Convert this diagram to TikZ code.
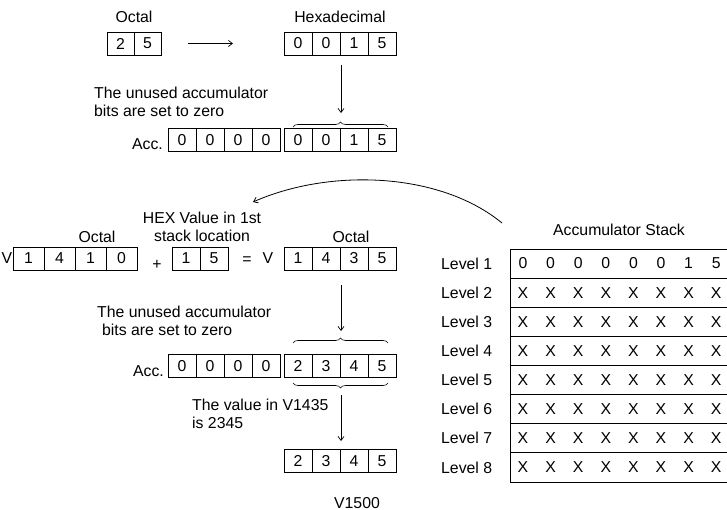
\documentclass[tikz,border=0pt]{standalone}
\usepackage{fontspec}
\setmainfont{Liberation Sans}
\usetikzlibrary{arrows.meta,decorations.pathreplacing}
\begin{document}
\begin{tikzpicture}[x=1pt,y=-1pt,
  cell/.style={draw,line width=0.8pt,minimum width=28pt,minimum height=23pt,inner sep=0pt,font=\fontsize{15.8}{17.5}\selectfont},
  lbl/.style={inner sep=0pt,font=\fontsize{15.8}{17.5}\selectfont},
  arr/.style={line width=0.7pt,-{Straight Barb[length=4pt,width=6pt]}},
  brc/.style={decorate,decoration={brace,amplitude=5pt},line width=0.6pt},
  brcm/.style={decorate,decoration={brace,mirror,amplitude=5pt},line width=0.6pt},
  rule/.style={line width=0.8pt}]
\useasboundingbox (0,0) rectangle (727,510);

% ---------- top part ----------
\node[lbl,anchor=base] (octT) at (134,23) {Octal};
\node[cell,minimum width=27pt] (oa) at (120.5,43.5) {2};
\node[cell,minimum width=27pt] (ob) at (147.5,43.5) {5};
\node[lbl,anchor=base] (hexT) at (340,23) {Hexadecimal};
\foreach \d [count=\i] in {0,0,1,5} \node[cell] (h\i) at ({270+28*\i},43.5) {\d};
\coordinate (a1s) at (188,43.5);
\coordinate (a1e) at (233,43.5);
\draw[arr] (a1s) -- (a1e);
\coordinate (v1s) at (341,65);
\coordinate (v1e) at (341,113);
\draw[arr] (v1s) -- (v1e);
\node[lbl,align=left,anchor=north west] (txt1) at (94,87) {The unused accumulator\\bits are set to zero};
\coordinate (b1a) at (293,127);
\coordinate (b1b) at (388,127);
\draw[brc] (b1a) -- (b1b);
\node[lbl,anchor=base east] (acc1) at (163,150) {Acc.};
\foreach \d [count=\i] in {0,0,0,0} \node[cell] (ga\i) at ({154+28*\i},140) {\d};
\foreach \d [count=\i] in {0,0,1,5} \node[cell] (gb\i) at ({270+28*\i},140) {\d};

% ---------- curved arrow ----------
\coordinate (cs) at (502,223);
\coordinate (ce) at (253,202);
\draw[arr,line width=0.8pt] (cs) .. controls (440,172) and (330,168) .. (ce);

% ---------- middle part ----------
\node[lbl,align=center,anchor=north] (hexv) at (202,212) {HEX Value in 1st\\stack location};
\node[lbl,anchor=base] (octL) at (97,243) {Octal};
\node[lbl,anchor=base] (octR) at (351,243) {Octal};
\node[lbl] (vl) at (7,258.5) {V};
\foreach \d [count=\i] in {1,4,1,0} \node[cell,minimum width=31pt] (l\i) at ({-2.5+31*\i},258.5) {\d};
\node[lbl] (plus) at (157,265) {+};
\node[lbl] (eq) at (247,261) {=};
\foreach \d [count=\i] in {1,5} \node[cell] (m\i) at ({158+28*\i},258.5) {\d};
\node[lbl] (vr) at (268,258.5) {V};
\foreach \d [count=\i] in {1,4,3,5} \node[cell] (r\i) at ({270+28*\i},258.5) {\d};
\coordinate (v2s) at (341,285);
\coordinate (v2e) at (341,331);
\draw[arr] (v2s) -- (v2e);
\node[lbl,align=left,anchor=north west] (txt2) at (97,306) {The unused accumulator\\\hspace*{5pt}bits are set to zero};
\coordinate (b2a) at (293,343);
\coordinate (b2b) at (388,343);
\draw[brc] (b2a) -- (b2b);
\node[lbl,anchor=base east] (acc2) at (164,376) {Acc.};
\foreach \d [count=\i] in {0,0,0,0} \node[cell] (ka\i) at ({154+28*\i},366) {\d};
\foreach \d [count=\i] in {2,3,4,5} \node[cell] (kb\i) at ({270+28*\i},366) {\d};
\coordinate (b3a) at (293,383);
\coordinate (b3b) at (388,383);
\draw[brcm] (b3a) -- (b3b);
\coordinate (v3s) at (341,395);
\coordinate (v3e) at (341,441);
\draw[arr] (v3s) -- (v3e);
\node[lbl,align=left,anchor=north west] (txt3) at (192,399) {The value in V1435\\is 2345};
\foreach \d [count=\i] in {2,3,4,5} \node[cell] (bt\i) at ({270+28*\i},461) {\d};
\node[lbl,anchor=base] (v1500) at (357,508) {V1500};

% ---------- accumulator stack ----------
\node[lbl,anchor=base] (stk) at (619,236) {Accumulator Stack};
\draw[rule] (510,249) -- (510,482);
\foreach \k in {0,...,8} \draw[rule] (510,{249+29.125*\k}) -- (727,{249+29.125*\k});
\foreach \r in {1,...,8} {
  \node[lbl,anchor=west] (lev\r) at (441,{249+29.125*\r-14.56}) {Level \r};
}
\foreach \d [count=\j] in {0,0,0,0,0,0,1,5}
  \node[lbl] (s1c\j) at ({523+27.6*(\j-1)},263.56) {\d};
\foreach \r in {2,...,8} {
  \foreach \j in {1,...,8}
    \node[lbl] (s\r c\j) at ({523+27.6*(\j-1)},{249+29.125*\r-14.56}) {X};
}
\end{tikzpicture}
\end{document}
